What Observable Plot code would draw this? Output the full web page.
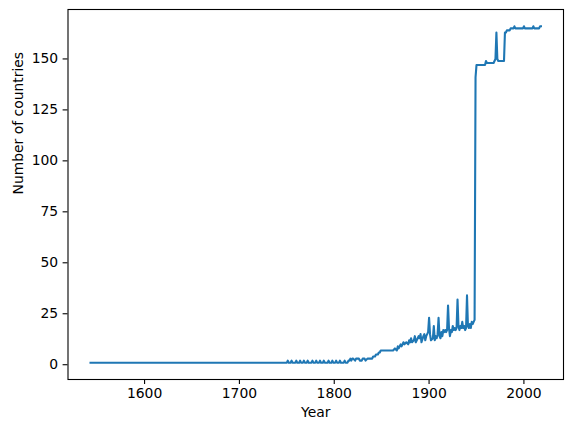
<!DOCTYPE html>
<html>
<head>
<meta charset="utf-8">
<script src="https://cdn.jsdelivr.net/npm/d3@7"></script>
<script src="https://cdn.jsdelivr.net/npm/@observablehq/plot@0.6"></script>
<style>
  html, body { margin: 0; padding: 0; background: #fff; }
  #chart svg { display: block; }
</style>
</head>
<body>
<div id="chart"></div>
<script>
// Breakpoints of the series (year, number of countries); straight segments between them.
const years = [
  1543, 1750, 1751, 1752, 1754, 1755, 1756, 1759, 1760, 1761, 1763, 1764, 1765,
  1767, 1768, 1769, 1771, 1772, 1773, 1776, 1777, 1778, 1780, 1781, 1782,
  1784, 1785, 1786, 1788, 1789, 1790, 1793, 1794, 1795, 1797, 1798, 1799,
  1801, 1802, 1803, 1805, 1806, 1807, 1810, 1811, 1812, 1814, 1815,
  1816, 1817, 1818, 1819, 1820, 1822, 1823, 1826, 1827, 1829, 1830, 1832, 1833,
  1835, 1838, 1840, 1841, 1843, 1844, 1846, 1847, 1848, 1849,
  1862, 1864, 1866, 1867, 1868, 1870, 1871, 1873, 1874, 1876, 1878, 1879, 1880,
  1881, 1882, 1884, 1885, 1886, 1888, 1889, 1890, 1891, 1892, 1894, 1895, 1896,
  1897, 1898, 1899, 1900, 1901, 1902, 1904, 1905, 1906, 1907, 1908, 1909, 1910,
  1911, 1912, 1913, 1914, 1915, 1916, 1917, 1918, 1919, 1920, 1921, 1922, 1923,
  1924, 1925, 1926, 1927, 1928, 1929, 1930, 1931, 1932, 1933, 1934, 1935, 1936,
  1937, 1938, 1939, 1940, 1941, 1942, 1943, 1944, 1945, 1946, 1947, 1948,
  1949, 1950, 1959, 1960, 1961, 1968, 1969, 1970, 1971, 1972, 1973, 1979,
  1980, 1981, 1982, 1985, 1986, 1989, 1990, 1991, 1999, 2000, 2001, 2009, 2010,
  2011, 2016, 2017, 2018
];
const counts = [
  1, 1, 2, 1, 1, 2, 1, 1, 2, 1, 1, 2, 1,
  1, 2, 1, 1, 2, 1, 1, 2, 1, 1, 2, 1,
  1, 2, 1, 1, 2, 1, 1, 2, 1, 1, 2, 1,
  1, 2, 1, 1, 2, 1, 1, 2, 1, 1, 2,
  2, 3, 2, 3, 3, 2, 3, 3, 2, 2, 3, 3, 2,
  3, 3, 3, 4, 4, 5, 5, 6, 6, 7,
  7, 8, 7, 9, 8, 10, 9, 11, 10, 11, 10, 12, 11,
  13, 11, 12, 14, 11, 13, 14, 13, 15, 11, 14, 15, 12,
  14, 15, 16, 23, 15, 12, 13, 19, 12, 14, 13, 15, 23,
  14, 13, 16, 14, 17, 16, 17, 16, 17, 29, 18, 14, 17,
  16, 19, 17, 18, 17, 18, 32, 19, 17, 19, 18, 21, 18,
  19, 17, 18, 34, 19, 18, 20, 18, 21, 20, 21, 22,
  141, 147, 147, 149, 148, 148, 149, 150, 163, 150, 149, 149,
  163, 163, 164, 164, 165, 165, 166, 165, 165, 166, 165, 165, 166,
  165, 165, 166, 166
];
const xTicks = [1600, 1700, 1800, 1900, 2000];
const yTicks = [0, 25, 50, 75, 100, 125, 150];
const xLabel = "Year";
const yLabel = "Number of countries";

const rows = years.map((year, i) => ({year, count: counts[i]}));
const xMin = d3.min(years), xMax = d3.max(years);
const yMin = d3.min(counts), yMax = d3.max(counts);
const xPad = (xMax - xMin) * 0.05, yPad = (yMax - yMin) * 0.05;

const chart = Plot.plot({
  width: 572,
  height: 432,
  marginLeft: 67.5,
  marginRight: 9,
  marginTop: 9,
  marginBottom: 53,
  style: {fontFamily: "'DejaVu Sans', sans-serif", fontSize: "13.9px", color: "black", background: "white"},
  x: {domain: [xMin - xPad, xMax + xPad]},
  y: {domain: [yMin - yPad, yMax + yPad]},
  marks: [
    Plot.axisX({ticks: xTicks, tickFormat: d => String(d), tickSize: 4.9, tickPadding: 4, label: null, strokeWidth: 1.1, stroke: "black"}),
    Plot.axisY({ticks: yTicks, tickFormat: d => String(d), tickSize: 4.9, tickPadding: 4.9, label: null, strokeWidth: 1.1, stroke: "black"}),
    Plot.line(rows, {x: "year", y: "count", stroke: "#1f77b4", strokeWidth: 2.1, strokeLinejoin: "round", strokeLinecap: "square"}),
    Plot.frame({stroke: "black", strokeWidth: 1.1}),
    Plot.text([xLabel], {frameAnchor: "bottom", dy: 37, text: d => d, fill: "black"}),
    Plot.text([yLabel], {frameAnchor: "left", dx: -49.5, rotate: -90, text: d => d, fill: "black"})
  ]
});
document.getElementById("chart").appendChild(chart);
</script>
</body>
</html>
